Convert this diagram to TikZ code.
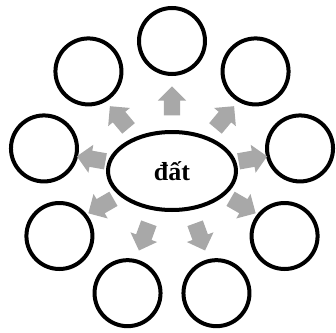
\documentclass[tikz,border=0pt]{standalone}
\usepackage{fontspec}
\setmainfont{Liberation Serif}
\usetikzlibrary{shapes.geometric,shapes.arrows}
\definecolor{arrgray}{RGB}{168,168,168}

\begin{document}
\begin{tikzpicture}[
  x=1pt, y=1pt,
  core/.style={draw, ellipse, line width=4pt, minimum width=128pt, minimum height=78pt, inner sep=0pt, font=\fontsize{26}{30}\selectfont\bfseries},
  ring/.style={draw, circle, line width=4pt, minimum size=66pt, inner sep=0pt},
  blockarr/.style={single arrow, fill=arrgray, draw=none, inner xsep=0pt, inner ysep=8pt, minimum height=29pt, single arrow head extend=6pt, single arrow tip angle=90}
]
  \useasboundingbox (-172,-161) rectangle (164,171);

  % Centre
  \node[core] (dat) at (0,0) {đất};

  % Outer circles and arrows
  \foreach \i in {0,...,8} {
    \pgfmathsetmacro{\ang}{90-40*\i}
    \node[ring] (c\i) at (\ang:130) {};
    \node[blockarr, rotate=\ang] (a\i) at (\ang:78 and 66) {};
  }
\end{tikzpicture}
\end{document}
